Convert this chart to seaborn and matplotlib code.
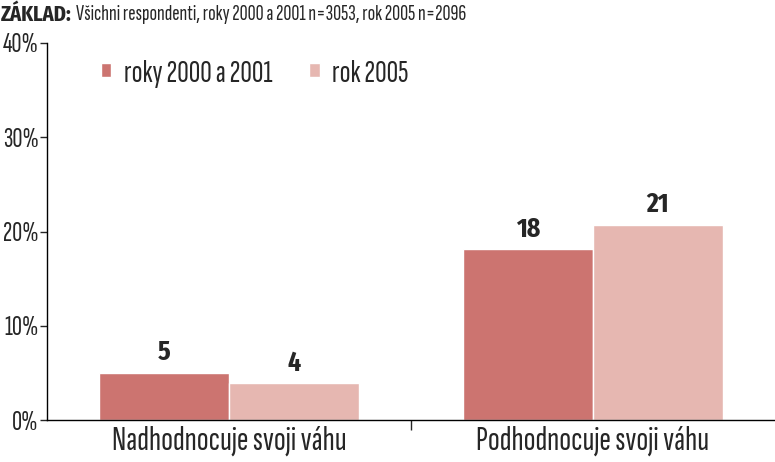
import matplotlib
matplotlib.use("Agg")
import matplotlib.pyplot as plt
import seaborn as sns
import pandas as pd
from matplotlib.ticker import PercentFormatter, FixedLocator

categories = ["Nadhodnocuje svoji váhu", "Podhodnocuje svoji váhu"]
series_names = ["roky 2000 a 2001", "rok 2005"]
values_2000_2001 = [5.0, 18.1]
values_2005 = [3.9, 20.7]
bar_labels_2000_2001 = ["5", "18"]
bar_labels_2005 = ["4", "21"]
colors = ["#CC7470", "#E6B7B1"]
header_bold = "ZÁKLAD:"
header_text = "Všichni respondenti, roky 2000 a 2001 n=3053, rok 2005 n=2096"

sns.set_style("white")
MAIN = ['Sofia Sans Extra Condensed', 'Roboto Condensed', 'DejaVu Sans']
BOLD = ['Fira Sans Extra Condensed', 'Roboto Condensed', 'DejaVu Sans']
plt.rcParams['font.family'] = MAIN

df = pd.DataFrame({
    "kategorie": categories * 2,
    "serie": [series_names[0]] * 2 + [series_names[1]] * 2,
    "hodnota": values_2000_2001 + values_2005,
})

fig = plt.figure(figsize=(7.75, 4.62), dpi=100)
ax = fig.add_axes([47 / 775, 1 - 420 / 462, 1 - 47 / 775, (420 - 43) / 462])

sns.barplot(data=df, x="kategorie", y="hodnota", hue="serie", palette=colors,
            width=0.714, ax=ax, edgecolor="white", linewidth=1.0, saturation=1)

for cont, labs in zip(ax.containers, [bar_labels_2000_2001, bar_labels_2005]):
    ax.bar_label(cont, labels=labs, padding=5, fontsize=20, fontweight="bold", family=BOLD)

ax.set_ylim(0, 40)
ax.set_xlim(-0.5, 1.5)
ax.set_yticks([0, 10, 20, 30, 40])
ax.yaxis.set_major_formatter(PercentFormatter(decimals=0))
ax.set_xlabel("")
ax.set_ylabel("")
ax.tick_params(axis="y", labelsize=20, length=5, width=1, direction="out", left=True, pad=1)
ax.tick_params(axis="x", labelsize=25, length=0, pad=4)
ax.xaxis.set_minor_locator(FixedLocator([0.5]))
ax.tick_params(axis="x", which="minor", length=7, width=1, direction="out", bottom=True)

for s in ["top", "right"]:
    ax.spines[s].set_visible(False)
for s in ["left", "bottom"]:
    ax.spines[s].set_color("black")
    ax.spines[s].set_linewidth(1)

leg = ax.legend(loc="upper left", bbox_to_anchor=(0.056, 0.99), ncol=2, frameon=False,
                fontsize=23, handlelength=0.33, handleheight=0.33, handletextpad=0.4,
                columnspacing=1.15, borderaxespad=0)

hb = fig.text(0.001, 0.968, header_bold, fontsize=16, fontweight="bold", va="center", ha="left", family=BOLD)
fig.text(0, 0, header_text, fontsize=16, va="center", ha="left",
         position=(0, 0)).remove()
ax.annotate(header_text, xy=(1, 0.5), xycoords=hb, xytext=(3, 0), textcoords="offset points",
            fontsize=16, va="center", ha="left", annotation_clip=False)

fig.savefig("out.png", dpi=100)
